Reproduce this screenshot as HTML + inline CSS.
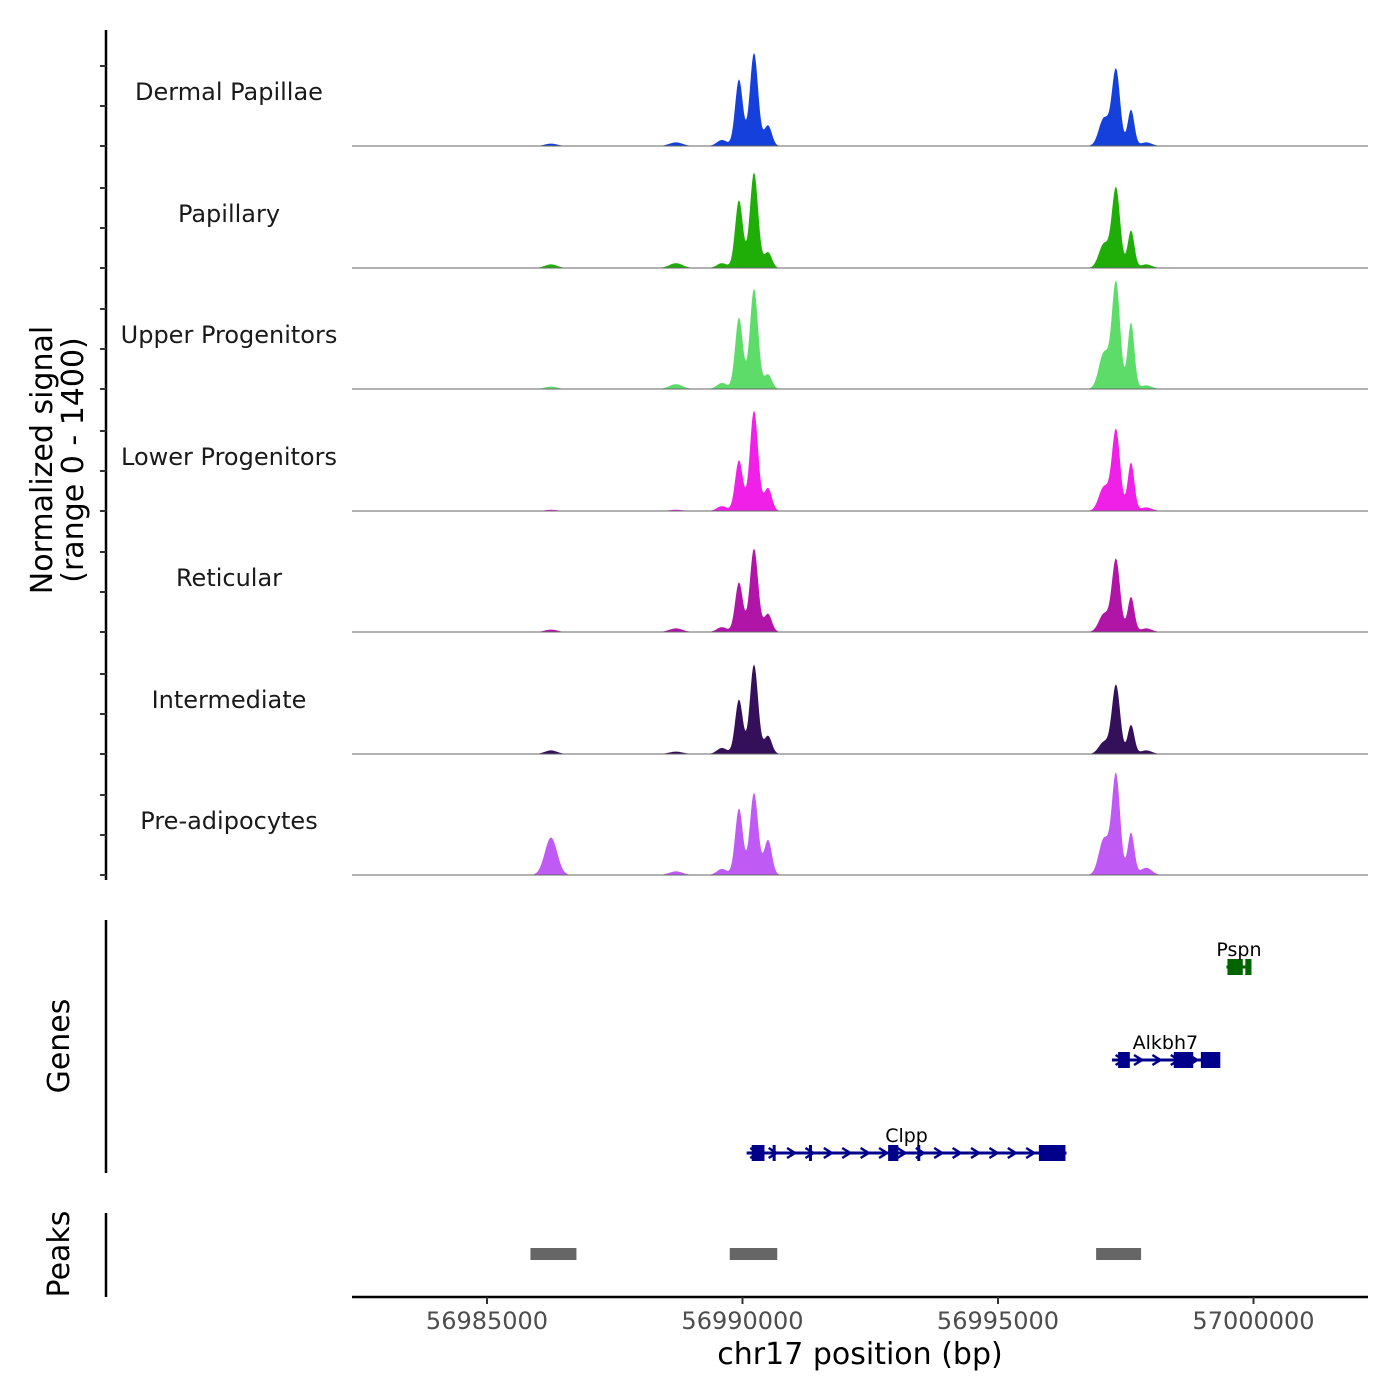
<!DOCTYPE html>
<html><head><meta charset="utf-8"><style>
body{margin:0;background:#fff}
svg{display:block;font-family:"DejaVu Sans","Liberation Sans",sans-serif}
</style></head><body>
<svg id="chart" width="1400" height="1400" viewBox="0 0 1400 1400"></svg>
<script>
// ---- data ----
const trackNames = ["Dermal Papillae","Papillary","Upper Progenitors","Lower Progenitors","Reticular","Intermediate","Pre-adipocytes"];
const trackColors = ["#1540DB","#1FAE08","#5EDC6A","#F020E8","#B015A8","#35105A","#C05AF5"];
const peakCenters = [56986252, 56988698, 56989599, 56989931, 56990225, 56990499, 56997074, 56997309, 56997603, 56997900];
const peakWidths  = [120, 130, 100, 75, 80, 75, 100, 80, 65, 110];
const trackHeights = [
  [0.02,0.03,0.05,0.55,0.77,0.17,0.23,0.63,0.30,0.03],
  [0.03,0.04,0.04,0.56,0.79,0.13,0.20,0.66,0.31,0.03],
  [0.02,0.04,0.05,0.59,0.83,0.12,0.30,0.88,0.55,0.03],
  [0.01,0.01,0.04,0.42,0.83,0.19,0.20,0.67,0.40,0.03],
  [0.02,0.03,0.04,0.41,0.69,0.15,0.15,0.60,0.29,0.03],
  [0.03,0.02,0.05,0.45,0.74,0.15,0.10,0.57,0.24,0.03],
  [0.31,0.03,0.05,0.55,0.68,0.29,0.30,0.83,0.35,0.06]
];
const xTicks = [56985000, 56990000, 56995000, 57000000];
const peakRegions = [[56985850,56986750],[56989750,56990680],[56996920,56997800]];
const genes = [
  {name:"Pspn", row:0, color:"#006400", start:56999470, end:56999960, exons:[[56999490,56999790],[56999840,56999960]], strand:-1},
  {name:"Alkbh7", row:1, color:"#00008B", start:56997230, end:56999320, exons:[[56997350,56997580],[56998440,56998820],[56998970,56999350]], strand:1},
  {name:"Clpp", row:2, color:"#00008B", start:56990080, end:56996340, exons:[[56990180,56990430],[56990590,56990640],[56991300,56991360],[56992850,56993050],[56993420,56993470],[56995800,56996320]], strand:1}
];
// ---- scales ----
const X0=352, X1=1368, BP0=56982358, BP1=56982358+(X1-X0)/0.0511;
const xs = bp => X0 + (bp-BP0)/(BP1-BP0)*(X1-X0);
const baselines=[146,268,389,511,632,754,875];
const TH=121;
const svg=document.getElementById('chart');
const NS="http://www.w3.org/2000/svg";
function mk(tag,attrs,parent){const e=document.createElementNS(NS,tag);for(const k in attrs)e.setAttribute(k,attrs[k]);(parent||svg).appendChild(e);return e;}

trackNames.forEach((name,i)=>{
  const g=mk('g',{});
  
  
  const base=baselines[i];
  let d=`M${X0},${base}`;
  for(let px=X0;px<=X1;px+=1){
    const bp=BP0+(px-X0)/(X1-X0)*(BP1-BP0);
    let v=0;
    peakCenters.forEach((c,k)=>{const z=(bp-c)/peakWidths[k];v+=trackHeights[i][k]*Math.exp(-0.5*z*z);});
    d+=` L${px},${(base-v*TH).toFixed(1)}`;
  }
  d+=` L${X1},${base} Z`;
  const p=mk('path',{d,fill:trackColors[i]},g);
  
  
  const l=mk('line',{x1:X0,x2:X1,y1:base,y2:base,stroke:'#666','stroke-width':1},g);
  
  
  const t=mk('text',{x:229,y:base-46,'text-anchor':'middle','font-size':24,fill:'#1a1a1a'},g);
  t.textContent=name;
  
  
});
const ax=mk('line',{x1:106,x2:106,y1:30,y2:880,stroke:'#000','stroke-width':2.5});


baselines.forEach((b,i)=>{
  for(let k=0;k<3;k++){
    const tk=mk('line',{x1:100,x2:106,y1:(b-k*40).toFixed(1),y2:(b-k*40).toFixed(1),stroke:'#333','stroke-width':2});
    
    
  }
});
const yt=mk('text',{transform:'translate(52,460) rotate(-90)','text-anchor':'middle','font-size':30,fill:'#000'});
yt.innerHTML='<tspan x="0" dy="0">Normalized signal</tspan><tspan x="0" dy="31">(range 0 - 1400)</tspan>';



const ga=mk('line',{x1:106,x2:106,y1:920,y2:1173,stroke:'#000','stroke-width':2.5});


const gt=mk('text',{transform:'translate(69,1046) rotate(-90)','text-anchor':'middle','font-size':30,fill:'#000'});
gt.textContent='Genes';


const rowY=[967,1060,1153];
genes.forEach(gn=>{
  const g=mk('g',{});
  
  
  const y=rowY[gn.row];
  mk('line',{x1:xs(gn.start),x2:xs(gn.end),y1:y,y2:y,stroke:gn.color,'stroke-width':3},g);
  for(let bp=gn.start+150;bp<gn.end;bp+=360){
    const x=xs(bp);const s=gn.strand*4;
    mk('path',{d:`M${x-s},${y-5} L${x+s},${y} L${x-s},${y+5}`,stroke:gn.color,'stroke-width':2.5,fill:'none'},g);
  }
  gn.exons.forEach(e=>{
    const r=mk('rect',{x:xs(e[0]),y:y-8,width:Math.max(3,xs(e[1])-xs(e[0])),height:16,fill:gn.color},g);
    
    
  });
  const t=mk('text',{x:(xs(gn.start)+xs(gn.end))/2,y:y-11,'text-anchor':'middle','font-size':19,fill:'#000'},g);
  t.textContent=gn.name;
  
  
});

const pa=mk('line',{x1:106,x2:106,y1:1213,y2:1297,stroke:'#000','stroke-width':2.5});


const pt=mk('text',{transform:'translate(69,1254) rotate(-90)','text-anchor':'middle','font-size':30,fill:'#000'});
pt.textContent='Peaks';


peakRegions.forEach(r=>{
  const e=mk('rect',{x:xs(r[0]),y:1248,width:xs(r[1])-xs(r[0]),height:12,fill:'#666'});
  
  
});

const xa=mk('line',{x1:X0,x2:X1,y1:1297,y2:1297,stroke:'#000','stroke-width':2.5});


xTicks.forEach(v=>{
  const tk=mk('line',{x1:xs(v),x2:xs(v),y1:1297,y2:1304,stroke:'#333','stroke-width':2});
  
  
  const t=mk('text',{x:xs(v),y:1329,'text-anchor':'middle','font-size':24,fill:'#4d4d4d'});
  t.textContent=v;
  
  
});
const xt=mk('text',{x:860,y:1364,'text-anchor':'middle','font-size':30,fill:'#000'});
xt.textContent='chr17 position (bp)';


</script>
</body></html>
